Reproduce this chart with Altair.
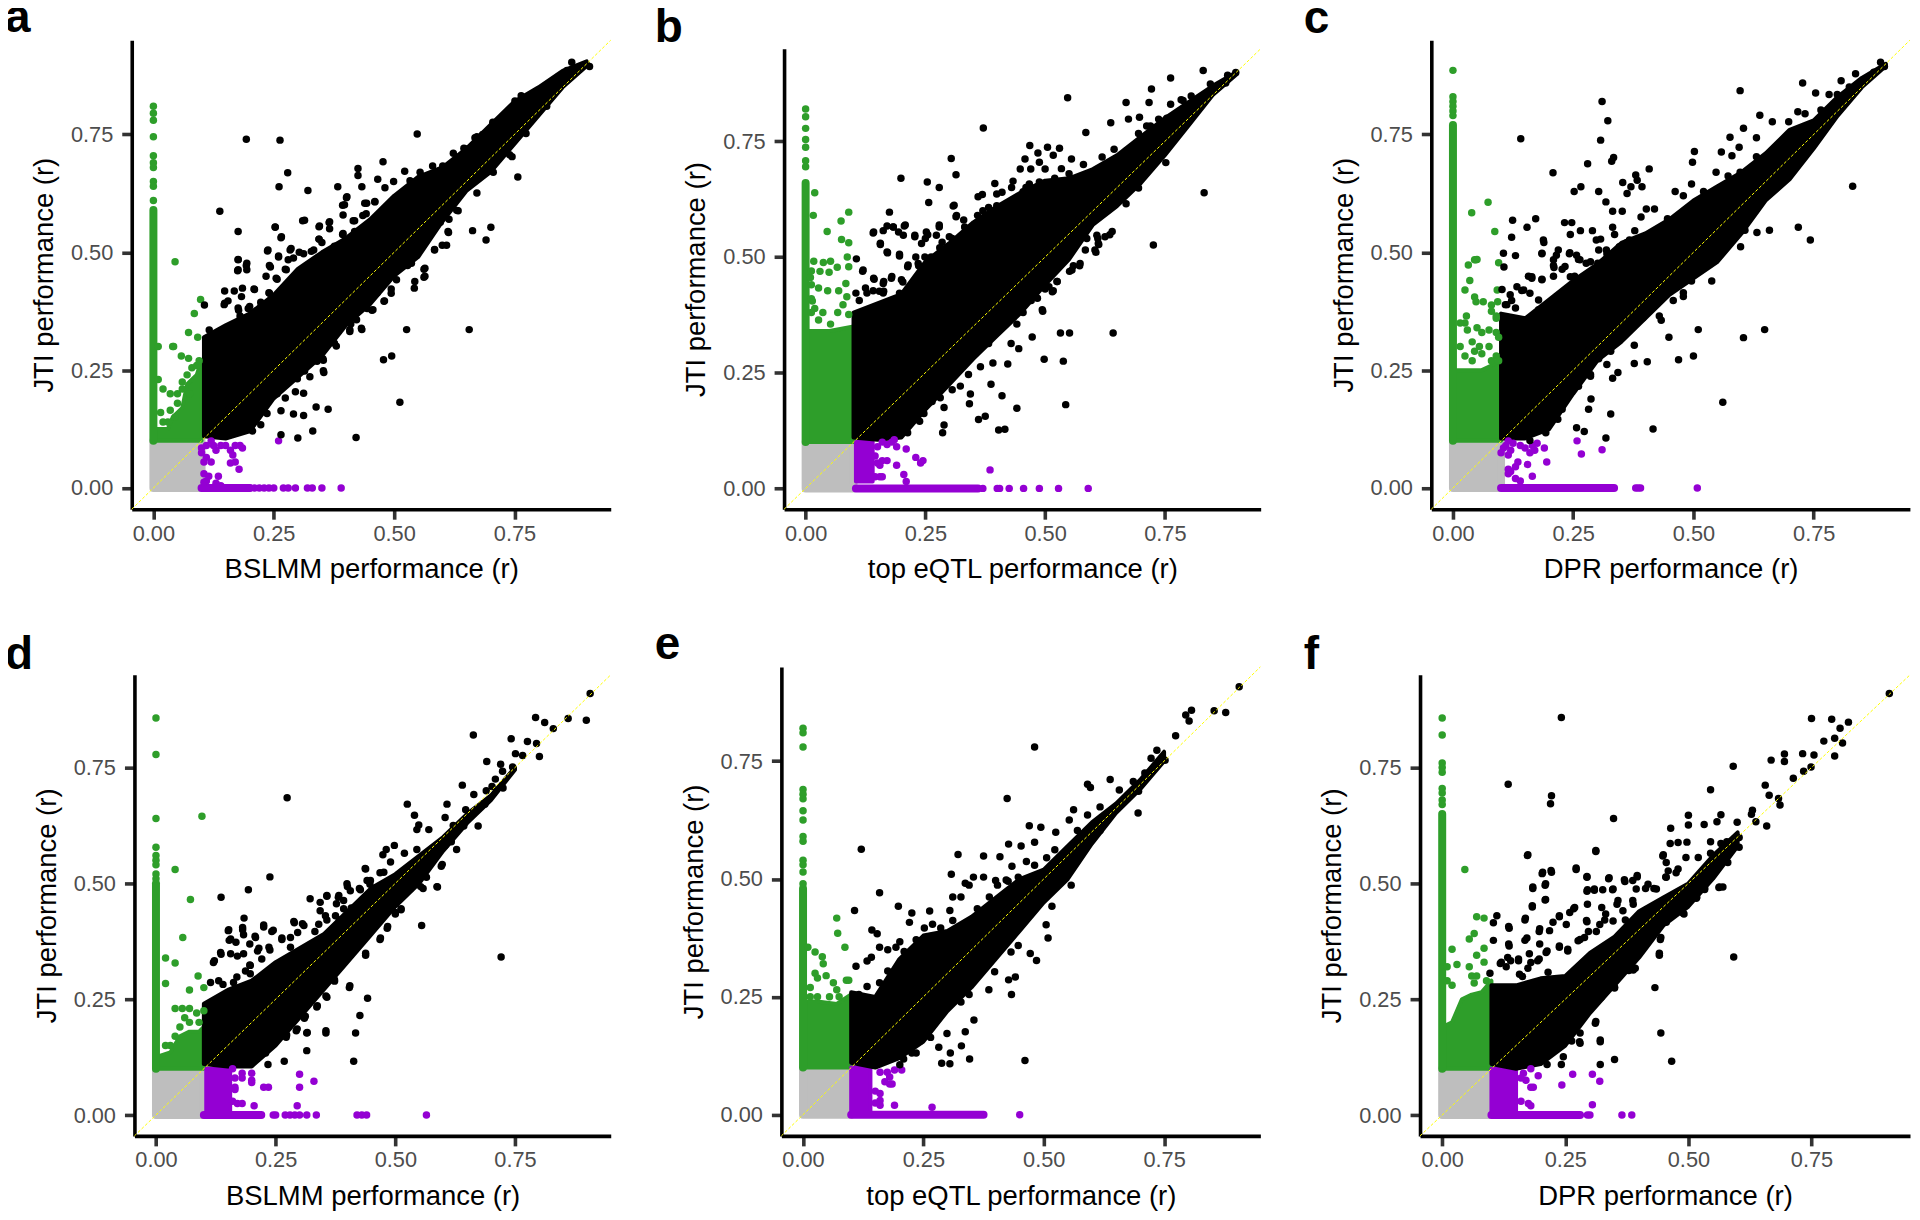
import altair as alt
import pandas as pd

# The saturated parts of each cloud
# cannot be read dot by dot, so they are given as read envelopes (x, upper, lower);
# isolated points and the dots along the cloud edges are listed individually.
GREY = "#BEBEBE"; GREEN = "#2E9E2A"; PURPLE = "#9400D3"; BLACK = "#000000"; YELLOW = "#FFFF00"
TICKS = [0, 0.25, 0.5, 0.75]
DOMAIN = [-0.045, 0.95]

# ---------- panel a
A_BLACK_ENV = ([.105,.15,.2,.25,.3,.35,.4,.45,.5,.55,.6,.65,.7,.75,.8,.85,.9],
 [.32,.345,.37,.41,.465,.50,.53,.57,.62,.66,.68,.72,.77,.82,.85,.885,.905],
 [.11,.105,.12,.19,.235,.28,.345,.39,.45,.49,.565,.63,.67,.73,.79,.85,.895])
A_BLACK = [(.193,.74),(.263,.738),(.548,.751),(.279,.669),(.261,.639),(.321,.631),(.138,.587),(.31,.567),(.176,.544),(.253,.553),(.265,.531),(.237,.503),(.176,.484),(.193,.472),(.175,.461),(.243,.469),(.26,.49),(.284,.505),(.148,.418),(.168,.418),(.185,.424),(.21,.421),(.147,.389),(.177,.377),(.106,.388),(.116,.335),(.383,.639),(.425,.678),(.425,.663),(.433,.639),(.466,.655),(.477,.692),(.401,.616),(.393,.6),(.522,.672),(.344,.554),(.365,.563),(.344,.528),(.418,.567),(.757,.66),(.745,.703),(.701,.553),(.663,.546),(.691,.526),(.656,.336),(.526,.336),(.478,.272),(.495,.28),(.512,.182),(.421,.107),(.363,.167),(.338,.172),(.331,.121),(.312,.154),(.291,.157),(.3,.106),(.265,.113),(.265,.164),(.354,.245),(.353,.271),(.333,.278),(.312,.201),(.295,.204),(.433,.336),(.408,.332),(.454,.377),(.479,.396),(.542,.424),(.562,.464),(.562,.447),(.584,.505),(.609,.515),(.613,.542),(.869,.903),(.899,.899),(.906,.894),(.859,.886),(.764,.832),(.751,.821),(.705,.776),(.684,.75),(.668,.743),(.645,.721),(.623,.71)]
A_EDGE = [(.155,.397),(.168,.348),(.155,.327),(.18,.365),(.197,.381),(.189,.348),(.223,.394),(.24,.414),(.257,.443),(.274,.464),(.291,.488),(.312,.497),(.333,.505),(.325,.472),(.35,.521),(.376,.513),(.393,.538),(.418,.538),(.435,.578),(.443,.604),(.46,.608),(.481,.637),(.499,.65),(.533,.652),(.554,.67),(.58,.683),(.601,.683),(.622,.662),(.647,.72),(.672,.745),(.732,.79),(.749,.785),(.783,.814),(.812,.845),(.825,.855),(.206,.121),(.223,.134),(.236,.158),(.257,.2),(.274,.191),(.299,.232),(.325,.236),(.376,.307),(.384,.332),(.41,.348),(.444,.381),(.465,.414),(.494,.422),(.528,.472),(.545,.505),(.554,.517),(.596,.564),(.63,.589),(.672,.626),(.706,.67),(.74,.707),(.774,.752),(.817,.81)]
A_EDGE2 = [(.183,.406),(.209,.422),(.148,.392),(.176,.382),(.2,.385),(.224,.388),(.241,.413),(.234,.449),(.255,.445),(.276,.463),(.241,.472),(.26,.492),(.28,.484),(.286,.508),(.303,.5),(.176,.485),(.194,.477),(.176,.463),(.194,.463),(.238,.505),(.266,.533),(.253,.554),(.314,.568),(.345,.556),(.366,.565),(.366,.55),(.344,.528),(.328,.502),(.394,.579),(.397,.601),(.402,.618),(.439,.604),(.46,.607),(.394,.54),(.418,.544),(.44,.54),(.415,.567),(.442,.582),(.48,.582),(.494,.593),(.633,.588),(.612,.544),(.614,.57),(.6,.515),(.584,.506),(.564,.466),(.564,.449),(.543,.438),(.536,.477),(.505,.442),(.494,.413),(.48,.397),(.456,.378),(.432,.339),(.408,.336),(.422,.357),(.38,.301),(.352,.274),(.333,.28),(.34,.269),(.353,.249),(.314,.248)]
A_GREEN_ENV = ([0,.03,.04,.06,.07,.09,.1],[.125,.125,.15,.17,.22,.24,.27],[.1,.1,.1,.1,.1,.1,.1])
A_GREEN_COL = (.1,.59)
A_GREEN = [(0,.81),(0,.795),(0,.78),(0,.745),(0,.705),(0,.69),(0,.68),(0,.65),(0,.64),(0,.61),(.045,.48),(.098,.40),(.085,.37),(.073,.33),(.092,.32),(.04,.30),(.042,.3),(.01,.3),(.058,.28),(.073,.275),(.01,.23),(.02,.21),(.035,.2),(.05,.2),(.015,.16),(.03,.14),(.06,.21),(.07,.24),(.08,.255),(.09,.26),(.075,.2),(.05,.18),(.035,.165),(.045,.15),(.02,.14),(.06,.225),(.095,.27)]
A_PURPLE_ENV = None
A_PURPLE_ROW = (.1,.2)
A_PURPLE = [(.2,0),(.21,0),(.22,0),(.23,0),(.24,0),(.25,0),(.27,0),(.28,0),(.295,0),(.32,0),(.33,0),(.35,0),(.39,0),(.26,.1),(.1,.075),(.11,.09),(.12,.1),(.13,.08),(.11,.065),(.12,.055),(.15,.09),(.16,.08),(.17,.09),(.18,.09),(.185,.085),(.165,.07),(.16,.053),(.17,.055),(.178,.04),(.105,.03),(.115,.025),(.135,.025),(.105,.055),(.125,.09),(.14,.09),(.1,.085),(.11,.015),(.105,.012),(.13,.01),(.14,.005)]

# ---------- panel b
B_BLACK_ENV = ([.1,.15,.2,.25,.3,.35,.4,.45,.5,.55,.6,.65,.7,.75,.8,.85,.9],
 [.38,.40,.42,.49,.53,.575,.61,.64,.665,.67,.69,.72,.76,.80,.835,.87,.9],
 [.11,.105,.11,.17,.225,.28,.33,.38,.44,.495,.57,.61,.66,.72,.785,.85,.895])
B_BLACK = [(.547,.844),(.371,.779),(.762,.887),(.83,.903),(.722,.863),(.669,.834),(.717,.834),(.585,.769),(.674,.798),(.697,.802),(.637,.79),(.304,.713),(.314,.678),(.199,.67),(.254,.662),(.279,.65),(.257,.618),(.308,.61),(.314,.587),(.175,.597),(.206,.567),(.279,.565),(.395,.659),(.468,.741),(.505,.737),(.53,.735),(.485,.725),(.458,.712),(.488,.705),(.448,.69),(.517,.72),(.555,.712),(.534,.691),(.369,.635),(.399,.636),(.433,.664),(.141,.552),(.162,.557),(.183,.565),(.156,.527),(.171,.509),(.196,.502),(.228,.544),(.255,.548),(.106,.496),(.119,.469),(.143,.452),(.162,.443),(.179,.454),(.203,.446),(.213,.479),(.236,.481),(.262,.5),(.141,.427),(.162,.422),(.196,.422),(.105,.422),(.832,.639),(.726,.526),(.752,.704),(.642,.336),(.551,.336),(.532,.336),(.498,.279),(.538,.275),(.543,.181),(.422,.269),(.391,.271),(.387,.225),(.41,.2),(.441,.173),(.344,.204),(.342,.183),(.375,.156),(.361,.149),(.403,.126),(.416,.128),(.289,.175),(.289,.137),(.286,.12),(.473,.327),(.445,.302),(.429,.313),(.495,.383),(.551,.469),(.572,.481),(.517,.427),(.606,.51),(.612,.527),(.64,.555),(.898,.899),(.881,.893),(.877,.876),(.845,.874),(.805,.848),(.784,.84),(.762,.83),(.737,.798),(.712,.783)]
B_EDGE = [(.112,.406),(.128,.422),(.154,.426),(.179,.406),(.196,.389),(.162,.389),(.213,.414),(.238,.464),(.255,.473),(.272,.494),(.285,.532),(.306,.54),(.297,.507),(.331,.548),(.348,.557),(.331,.515),(.365,.582),(.382,.607),(.399,.611),(.416,.59),(.433,.615),(.437,.565),(.454,.641),(.467,.658),(.488,.662),(.509,.658),(.534,.649),(.555,.658),(.572,.662),(.589,.674),(.61,.683),(.619,.716),(.644,.733),(.669,.729),(.695,.767),(.72,.783),(.754,.8),(.788,.838),(.25,.54),(.23,.5),(.28,.52),(.33,.58),(.37,.6),(.36,.63),(.41,.64),(.43,.65),(.44,.6),(.47,.69),(.5,.69),(.46,.65),(.52,.67),(.55,.68),(.58,.7),(.213,.12),(.238,.145),(.247,.162),(.264,.188),(.281,.196),(.306,.213),(.323,.221),(.34,.246),(.365,.263),(.382,.313),(.39,.33),(.416,.364),(.441,.355),(.454,.38),(.471,.406),(.5,.431),(.525,.447),(.559,.481),(.584,.515),(.61,.54),(.635,.548),(.669,.615),(.695,.649),(.729,.708),(.754,.741)]
B_EDGE2 = [(.142,.554),(.17,.567),(.183,.565),(.208,.569),(.194,.554),(.204,.547),(.228,.547),(.156,.53),(.17,.511),(.196,.506),(.242,.529),(.252,.554),(.273,.547),(.279,.569),(.3,.544),(.214,.483),(.235,.486),(.249,.5),(.12,.472),(.142,.454),(.163,.447),(.18,.458),(.2,.451),(.125,.433),(.163,.426),(.197,.418),(.332,.565),(.359,.59),(.31,.612),(.315,.59),(.608,.547),(.587,.54),(.625,.544),(.611,.529),(.604,.515),(.573,.486),(.556,.472),(.525,.447),(.508,.436),(.515,.425),(.484,.411),(.494,.386),(.46,.408)]
B_GREEN_ENV = ([0,.05,.1],[.34,.34,.35],[.1,.1,.1])
B_GREEN_COL = (.1,.66)
B_GREEN = [(0,.82),(0,.803),(0,.778),(0,.754),(0,.737),(0,.708),(0,.695),(.019,.639),(.016,.59),(.09,.597),(.074,.578),(.045,.555),(.075,.538),(.09,.531),(.087,.5),(.09,.479),(.066,.478),(.052,.491),(.037,.488),(.049,.467),(.03,.469),(.017,.491),(.084,.443),(.027,.433),(.046,.427),(.069,.427),(.086,.414),(.019,.389),(.036,.38),(.067,.38),(.09,.376),(.027,.364),(.052,.355),(.078,.397),(.014,.405),(.01,.456),(.012,.47),(.012,.44),(.012,.41),(.012,.38)]
B_PURPLE_ENV = ([.105,.14],[.1,.1],[.015,.015])
B_PURPLE_ROW = (.105,.36)
B_PURPLE = [(.37,0),(.4,0),(.405,0),(.425,0),(.455,0),(.488,0),(.528,0),(.59,0),(.385,.04),(.16,.1),(.18,.1),(.19,.09),(.185,.105),(.21,.085),(.23,.067),(.245,.06),(.24,.055),(.19,.05),(.17,.06),(.16,.06),(.15,.055),(.155,.05),(.145,.025),(.155,.025),(.16,.025),(.205,.03),(.21,.015),(.15,.09),(.17,.095),(.145,.07)]

# ---------- panel c
C_BLACK_ENV = ([.1,.15,.2,.25,.3,.35,.4,.45,.5,.55,.6,.65,.7,.75,.8,.85,.9],
 [.37,.36,.40,.44,.475,.52,.54,.57,.61,.64,.67,.71,.76,.78,.83,.87,.90],
 [.105,.105,.125,.2,.27,.31,.36,.41,.445,.48,.54,.61,.655,.72,.79,.85,.895])
C_BLACK = [(.31,.82),(.322,.779),(.141,.741),(.307,.738),(.597,.843),(.727,.859),(.754,.838),(.831,.64),(.334,.701),(.33,.693),(.28,.688),(.408,.677),(.208,.669),(.38,.664),(.383,.653),(.353,.648),(.37,.639),(.393,.639),(.362,.625),(.252,.629),(.266,.639),(.303,.629),(.318,.607),(.332,.587),(.352,.587),(.402,.592),(.419,.592),(.391,.575),(.124,.568),(.172,.571),(.154,.553),(.122,.532),(.232,.563),(.247,.563),(.244,.538),(.265,.546),(.29,.546),(.307,.528),(.332,.553),(.105,.498),(.13,.493),(.106,.469),(.189,.521),(.185,.497),(.219,.505),(.209,.472),(.242,.497),(.576,.744),(.502,.714),(.498,.691),(.558,.713),(.595,.723),(.604,.763),(.638,.791),(.631,.743),(.58,.705),(.718,.553),(.743,.526),(.658,.547),(.632,.542),(.607,.547),(.598,.512),(.538,.439),(.648,.336),(.604,.319),(.51,.336),(.5,.28),(.449,.32),(.469,.272),(.377,.303),(.377,.264),(.404,.268),(.343,.245),(.332,.233),(.32,.262),(.561,.182),(.416,.125),(.328,.157),(.318,.106),(.287,.189),(.282,.167),(.273,.12),(.257,.128),(.286,.237),(.433,.356),(.479,.406),(.889,.903),(.897,.894),(.875,.882),(.837,.879),(.807,.864),(.782,.835),(.717,.798)]
C_EDGE = [(.109,.389),(.122,.398),(.143,.419),(.164,.448),(.185,.443),(.21,.468),(.227,.464),(.244,.448),(.261,.485),(.286,.48),(.303,.505),(.32,.497),(.336,.538),(.362,.521),(.378,.546),(.395,.526),(.42,.521),(.446,.571),(.462,.629),(.479,.62),(.496,.645),(.521,.629),(.547,.67),(.572,.662),(.597,.67),(.631,.703),(.664,.777),(.698,.777),(.732,.794),(.765,.802),(.799,.835),(.824,.851),(.16,.101),(.193,.117),(.218,.146),(.227,.167),(.261,.216),(.286,.241),(.303,.274),(.328,.29),(.362,.332),(.395,.361),(.429,.365),(.458,.398),(.479,.414),(.496,.439),(.53,.48),(.563,.521),(.597,.554),(.631,.592),(.673,.637),(.698,.678),(.732,.707),(.774,.769)]
C_EDGE2 = [(.133,.427),(.147,.42),(.157,.449),(.164,.445),(.185,.442),(.209,.449),(.233,.47),(.253,.449),(.264,.484),(.277,.477),(.301,.477),(.215,.494),(.209,.484),(.257,.494),(.243,.499),(.185,.498),(.178,.399),(.119,.41),(.102,.421),(.112,.389),(.13,.382),(.178,.378),(.16,.413),(.188,.526),(.298,.526),(.319,.505),(.346,.512),(.367,.526),(.401,.526)]
C_GREEN_ENV = ([0,.02,.04,.06,.08,.1],[.25,.25,.25,.25,.26,.27],[.1,.1,.1,.1,.1,.1])
C_GREEN_COL = (.1,.77)
C_GREEN = [(0,.886),(0,.83),(0,.82),(0,.81),(0,.80),(0,.79),(.073,.606),(.039,.584),(.087,.544),(.048,.484),(.05,.485),(.045,.484),(.032,.473),(.095,.478),(.035,.44),(.025,.42),(.092,.42),(.045,.405),(.048,.395),(.063,.395),(.08,.388),(.093,.395),(.08,.375),(.09,.365),(.09,.36),(.028,.365),(.025,.35),(.015,.35),(.03,.335),(.05,.34),(.06,.33),(.075,.335),(.09,.33),(.095,.32),(.04,.31),(.055,.3),(.045,.29),(.025,.28),(.04,.27),(.06,.285),(.075,.3),(.09,.28),(.08,.27),(.095,.27),(.015,.3)]
C_PURPLE_ENV = None
C_PURPLE_ROW = (.1,.335)
C_PURPLE = [(.38,0),(.385,0),(.39,0),(.508,0),(.258,.1),(.267,.072),(.31,.081),(.115,.1),(.125,.095),(.14,.09),(.11,.09),(.12,.08),(.115,.07),(.15,.085),(.165,.09),(.175,.095),(.16,.075),(.19,.085),(.195,.055),(.155,.05),(.135,.055),(.13,.045),(.115,.04),(.12,.035),(.115,.03),(.165,.025),(.13,.02),(.14,.015),(.105,.085),(.1,.075),(.17,.08)]

# ---------- panel d
D_BLACK_ENV = ([.1,.15,.2,.25,.3,.35,.4,.45,.5,.55,.6,.65,.7,.75],
 [.24,.27,.29,.33,.36,.39,.44,.49,.52,.56,.60,.65,.69,.75],
 [.11,.105,.105,.15,.21,.27,.33,.39,.45,.50,.57,.63,.68,.745])
D_BLACK = [(.907,.91),(.899,.852),(.861,.856),(.83,.834),(.812,.847),(.793,.858),(.663,.82),(.742,.812),(.776,.806),(.795,.802),(.801,.774),(.751,.78),(.766,.776),(.691,.763),(.72,.757),(.745,.751),(.724,.742),(.709,.725),(.64,.712),(.725,.706),(.702,.709),(.69,.7),(.664,.692),(.687,.671),(.525,.671),(.608,.671),(.54,.647),(.549,.626),(.545,.616),(.274,.685),(.238,.514),(.193,.486),(.136,.47),(.322,.467),(.357,.472),(.381,.47),(.4,.493),(.438,.531),(.289,.415),(.242,.396),(.225,.406),(.184,.425),(.151,.398),(.181,.4),(.208,.383),(.153,.377),(.167,.373),(.136,.347),(.12,.329),(.17,.343),(.212,.354),(.238,.356),(.721,.341),(.555,.409),(.628,.573),(.673,.624),(.643,.624),(.617,.59),(.588,.492),(.596,.537),(.558,.489),(.512,.443),(.5,.434),(.483,.403),(.468,.379),(.438,.345),(.404,.275),(.442,.252),(.426,.215),(.417,.177),(.413,.116),(.355,.177),(.357,.254),(.336,.233),(.373,.289),(.315,.139),(.315,.177),(.293,.182),(.31,.209),(.268,.116),(.272,.168),(.234,.109)]
D_EDGE = [(.114,.286),(.14,.282),(.162,.286),(.187,.311),(.196,.324),(.221,.337),(.263,.379),(.281,.362),(.306,.413),(.332,.396),(.357,.421),(.383,.421),(.408,.447),(.425,.489),(.447,.498),(.468,.523),(.481,.573),(.498,.582),(.519,.565),(.545,.573),(.57,.616),(.579,.573),(.604,.642),(.621,.625),(.647,.659),(.229,.134),(.246,.16),(.255,.177),(.289,.219),(.323,.261),(.349,.286),(.374,.32),(.4,.354),(.425,.405),(.459,.421),(.494,.455),(.519,.489),(.553,.54),(.579,.565),(.604,.582),(.63,.616)]
D_EDGE2 = [(.152,.4),(.181,.405),(.156,.38),(.183,.389),(.207,.386),(.225,.41),(.245,.399),(.196,.369),(.215,.36),(.236,.362),(.263,.382),(.281,.383),(.296,.394),(.288,.418),(.309,.409),(.34,.412),(.343,.441),(.354,.43),(.375,.43),(.343,.459),(.357,.474),(.382,.474),(.377,.456),(.392,.463),(.392,.445),(.399,.499),(.406,.484),(.427,.486),(.441,.506),(.448,.506),(.437,.532),(.476,.524),(.49,.546),(.474,.562),(.135,.351),(.156,.348),(.183,.348),(.122,.333),(.169,.298),(.131,.29),(.197,.323),(.197,.305),(.598,.541),(.587,.493),(.565,.513),(.553,.493),(.531,.488),(.512,.445),(.5,.437),(.484,.407),(.469,.382),(.438,.349),(.406,.345),(.384,.324),(.368,.315),(.373,.292),(.405,.279),(.355,.257),(.337,.236),(.312,.213),(.295,.186),(.316,.178),(.273,.173),(.355,.182),(.288,.228),(.333,.268),(.35,.29)]
D_GREEN_ENV = ([0,.03,.05,.07,.09,.1],[.125,.135,.17,.18,.18,.19],[.1,.1,.1,.1,.1,.1])
D_GREEN_COL = (.1,.5)
D_GREEN = [(0,.857),(0,.778),(0,.64),(0,.578),(0,.56),(0,.55),(0,.54),(0,.52),(0,.51),(.096,.645),(.04,.53),(.072,.465),(.056,.383),(.02,.339),(.04,.328),(.088,.3),(.02,.284),(.07,.27),(.1,.275),(.04,.23),(.055,.23),(.07,.23),(.1,.225),(.04,.17),(.05,.19),(.06,.21),(.07,.2),(.09,.2),(.085,.22),(.03,.15),(.02,.15)]
D_PURPLE_ENV = ([.105,.155],[.1,.1],[0,0])
D_PURPLE_ROW = (.1,.22)
D_PURPLE = [(.245,0),(.25,0),(.27,0),(.28,0),(.29,0),(.3,0),(.315,0),(.335,0),(.42,0),(.43,0),(.44,0),(.565,0),(.16,.1),(.18,.09),(.18,.08),(.2,.09),(.2,.075),(.2,.07),(.165,.06),(.165,.055),(.225,.06),(.235,.06),(.3,.088),(.3,.06),(.33,.073),(.16,.03),(.17,.025),(.18,.025),(.205,.02),(.295,.02),(.165,.08)]

# ---------- panel e
E_BLACK_ENV = ([.1,.15,.2,.25,.3,.35,.4,.45,.5,.55,.6,.65,.7,.75],
 [.26,.25,.33,.38,.39,.42,.46,.50,.52,.57,.62,.66,.71,.77],
 [.11,.10,.12,.155,.22,.27,.33,.39,.45,.50,.575,.64,.69,.75])
E_BLACK = [(.906,.908),(.878,.853),(.854,.857),(.807,.858),(.795,.848),(.802,.835),(.774,.804),(.481,.78),(.424,.671),(.638,.711),(.591,.701),(.597,.694),(.735,.773),(.723,.756),(.735,.744),(.752,.752),(.71,.725),(.686,.707),(.657,.689),(.697,.686),(.696,.64),(.562,.647),(.47,.613),(.494,.61),(.427,.574),(.453,.57),(.121,.563),(.322,.552),(.375,.549),(.409,.547),(.434,.527),(.525,.599),(.553,.625),(.481,.578),(.557,.487),(.562,.533),(.308,.51),(.354,.504),(.337,.491),(.375,.504),(.4,.497),(.422,.498),(.159,.471),(.107,.433),(.198,.442),(.226,.428),(.263,.432),(.221,.408),(.311,.462),(.305,.433),(.143,.392),(.154,.384),(.11,.315),(.133,.326),(.142,.334),(.159,.355),(.176,.35),(.201,.367),(.252,.396),(.509,.375),(.505,.403),(.485,.327),(.472,.342),(.447,.359),(.432,.345),(.441,.292),(.427,.286),(.433,.255),(.386,.265),(.398,.303),(.517,.442),(.503,.461),(.461,.115),(.355,.201),(.337,.176),(.329,.146),(.346,.118),(.306,.131),(.288,.109),(.305,.108),(.299,.172),(.265,.164),(.282,.143),(.235,.131),(.209,.118)]
E_EDGE = [(.116,.255),(.133,.272),(.159,.28),(.176,.305),(.193,.355),(.21,.346),(.235,.371),(.269,.404),(.286,.396),(.311,.412),(.328,.462),(.345,.487),(.362,.437),(.387,.462),(.404,.487),(.426,.495),(.447,.504),(.464,.537),(.481,.529),(.506,.545),(.523,.562),(.54,.545),(.57,.603),(.591,.636),(.617,.653),(.201,.106),(.226,.131),(.243,.156),(.269,.197),(.294,.23),(.328,.239),(.345,.255),(.371,.313),(.379,.346),(.422,.396),(.447,.404),(.472,.437),(.498,.471),(.523,.496),(.557,.545),(.583,.57),(.617,.603),(.676,.678)]
E_GREEN_ENV = ([0,.03,.07,.1],[.24,.24,.235,.255],[.1,.1,.1,.1])
E_GREEN_COL = (.1,.48)
E_GREEN = [(0,.82),(0,.81),(0,.78),(0,.69),(0,.68),(0,.67),(0,.645),(0,.625),(0,.59),(0,.58),(0,.54),(0,.53),(0,.515),(0,.49),(.07,.417),(.072,.385),(.087,.355),(.025,.345),(.04,.335),(.042,.32),(.025,.3),(.03,.29),(.048,.295),(.063,.28),(.09,.285),(.095,.285),(.015,.27),(.07,.265),(.075,.25),(.015,.25),(.03,.25),(.055,.25),(.01,.355)]
E_PURPLE_ENV = ([.1,.14],[.1,.1],[0,0])
E_PURPLE_ROW = (.1,.375)
E_PURPLE = [(.45,0),(.268,.016),(.19,.02),(.16,.09),(.175,.09),(.18,.08),(.19,.095),(.205,.095),(.17,.07),(.18,.065),(.185,.065),(.15,.05),(.16,.045),(.16,.03),(.15,.025),(.16,.02)]

# ---------- panel f
F_BLACK_ENV = ([.1,.15,.2,.25,.3,.35,.4,.45,.5,.55,.6],
 [.28,.28,.295,.30,.35,.385,.44,.47,.50,.56,.61],
 [.11,.10,.11,.15,.22,.28,.34,.41,.45,.51,.58])
F_BLACK = [(.908,.91),(.242,.858),(.75,.856),(.791,.854),(.825,.848),(.808,.835),(.775,.807),(.797,.813),(.813,.803),(.797,.775),(.695,.779),(.695,.763),(.668,.766),(.732,.78),(.755,.777),(.591,.753),(.749,.751),(.734,.742),(.713,.727),(.134,.714),(.222,.689),(.22,.672),(.656,.712),(.545,.702),(.664,.69),(.683,.683),(.686,.669),(.348,.64),(.5,.647),(.5,.626),(.532,.627),(.464,.619),(.566,.648),(.558,.633),(.659,.624),(.63,.658),(.173,.56),(.312,.569),(.448,.559),(.463,.586),(.479,.588),(.497,.589),(.545,.59),(.566,.586),(.603,.578),(.272,.53),(.203,.521),(.222,.524),(.294,.513),(.338,.51),(.184,.489),(.209,.496),(.209,.464),(.183,.449),(.294,.483),(.309,.485),(.346,.486),(.371,.504),(.396,.514),(.562,.491),(.57,.492),(.533,.487),(.516,.468),(.491,.434),(.111,.43),(.104,.415),(.168,.421),(.136,.403),(.238,.428),(.267,.445),(.294,.417),(.104,.377),(.136,.365),(.168,.377),(.197,.396),(.118,.327),(.139,.333),(.155,.333),(.097,.306),(.592,.341),(.443,.379),(.441,.345),(.432,.275),(.35,.274),(.444,.177),(.466,.116),(.35,.12),(.321,.109),(.321,.158),(.311,.198),(.28,.155),(.242,.109),(.388,.313),(.246,.155),(.321,.253)]
F_EDGE = [(.13,.32),(.163,.299),(.18,.329),(.197,.337),(.213,.354),(.238,.362),(.255,.354),(.28,.379),(.297,.396),(.313,.396),(.33,.421),(.355,.455),(.372,.421),(.388,.455),(.413,.489),(.43,.489),(.454,.514),(.475,.523),(.495,.556),(.52,.556),(.545,.565),(.578,.59),(.599,.632),(.628,.649),(.213,.109),(.246,.126),(.263,.16),(.28,.177),(.296,.236),(.321,.261),(.346,.295),(.379,.312),(.412,.379),(.454,.43),(.479,.447),(.512,.489),(.545,.54),(.578,.582),(.603,.599),(.637,.633)]
F_EDGE2 = [(.174,.562),(.312,.571),(.272,.533),(.221,.528),(.204,.524),(.184,.492),(.21,.499),(.21,.465),(.183,.452),(.294,.515),(.339,.512),(.37,.508),(.295,.486),(.309,.488),(.326,.486),(.347,.488),(.396,.517),(.387,.506),(.449,.562),(.455,.545),(.459,.527),(.479,.531),(.455,.513),(.169,.425),(.135,.407),(.135,.369),(.172,.382),(.238,.43),(.259,.437),(.269,.448),(.295,.455),(.324,.448),(.332,.434),(.293,.42),(.32,.411),(.252,.411),(.225,.416),(.198,.402),(.218,.398),(.198,.369),(.238,.365),(.276,.376),(.289,.383),(.133,.34),(.155,.337),(.177,.348),(.194,.333),(.12,.33),(.174,.317),(.211,.351),(.255,.358),(.215,.308),(.157,.304),(.357,.463),(.367,.441),(.347,.419),(.387,.463),(.394,.488),(.418,.498),(.435,.488),(.58,.545),(.563,.492),(.533,.49),(.517,.47),(.489,.436),(.455,.416),(.444,.383),(.441,.349),(.411,.378),(.39,.358),(.392,.317),(.38,.315),(.35,.276),(.323,.254),(.286,.225),(.276,.207),(.312,.202),(.259,.185),(.279,.158),(.321,.162),(.245,.16)]
F_GREEN_ENV = ([0,.02,.04,.06,.08,.1],[.19,.2,.25,.26,.265,.29],[.1,.1,.1,.1,.1,.1])
F_GREEN_COL = (.1,.65)
F_GREEN = [(0,.857),(0,.82),(0,.76),(0,.75),(0,.74),(0,.705),(0,.695),(0,.68),(0,.67),(.046,.53),(.07,.428),(.085,.425),(.065,.392),(.055,.38),(.085,.36),(.07,.345),(.085,.33),(.02,.358),(.03,.325),(.055,.32),(.06,.3),(.09,.29),(.02,.28),(.065,.285),(.07,.3),(.01,.32),(.01,.29)]
F_PURPLE_ENV = ([.1,.15],[.1,.1],[0,0])
F_PURPLE_ROW = (.1,.28)
F_PURPLE = [(.295,0),(.3,0),(.365,0),(.385,0),(.305,.022),(.18,.02),(.165,.09),(.18,.1),(.195,.085),(.243,.065),(.265,.088),(.305,.088),(.32,.073),(.18,.06),(.185,.06),(.17,.075),(.16,.08),(.16,.03),(.175,.025)]

X_TITLES = ["BSLMM performance (r)", "top eQTL performance (r)", "DPR performance (r)"]
Y_TITLE = "JTI performance (r)"

FONT = "Liberation Sans"
COL_W = [651, 640, 491]
ROW_H = 470
DOT = 56

def env_df(env):
    return pd.DataFrame({"x": env[0], "y": env[1], "y2": env[2]})

def pts_df(pts):
    return pd.DataFrame(pts, columns=["x", "y"])

def panel(col, letter, xtitle, xr, yr, lab_x, lab_y,
          black_env, black, green_env, green_col, green, purple_env, purple_row, purple):
    xs = alt.Scale(domain=DOMAIN, range=xr, nice=False, zero=False)
    ys = alt.Scale(domain=DOMAIN, range=yr, nice=False, zero=False)
    common = dict(values=TICKS, format=".2f", grid=False, domainColor="black", domainWidth=3.6,
                  tickColor="#333333", tickWidth=3.6, tickSize=10, labelColor="#4D4D4D", labelFont=FONT,
                  labelFontSize=21.8, titleFont=FONT, titleFontSize=27.5, titleFontWeight="normal",
                  titleColor="black", labelFlush=False, labelOverlap=False)
    xa = alt.Axis(title=xtitle, labelPadding=4, titlePadding=11, **common)
    ya = alt.Axis(title=Y_TITLE, labelPadding=9, titlePadding=12, offset=-xr[0], **common)
    X = alt.X("x:Q", scale=xs, axis=xa)
    Y = alt.Y("y:Q", scale=ys, axis=ya)
    layers = []
    grey = pd.DataFrame({"x": [0], "x2": [0.1], "y": [0], "y2": [0.1]})
    layers.append(alt.Chart(grey).mark_rect(color=GREY, stroke=GREY, strokeWidth=8, strokeJoin="round")
                  .encode(x=X, x2="x2:Q", y=Y, y2="y2:Q"))
    for env, c in ((green_env, GREEN), (purple_env, PURPLE), (black_env, BLACK)):
        if env is not None:
            layers.append(alt.Chart(env_df(env)).mark_area(color=c, stroke=c, strokeWidth=4, strokeJoin="round", opacity=1)
                          .encode(x=X, y=Y, y2="y2:Q"))
    gc = pd.DataFrame({"x": [0], "y": [green_col[0]], "y2": [green_col[1]]})
    layers.append(alt.Chart(gc).mark_rule(color=GREEN, strokeWidth=8, strokeCap="round").encode(x=X, y=Y, y2="y2:Q"))
    pr = pd.DataFrame({"x": [purple_row[0]], "x2": [purple_row[1]], "y": [0]})
    layers.append(alt.Chart(pr).mark_rule(color=PURPLE, strokeWidth=8, strokeCap="round").encode(x=X, x2="x2:Q", y=Y))
    for pts, c in ((green, GREEN), (purple, PURPLE), (black, BLACK)):
        layers.append(alt.Chart(pts_df(pts)).mark_circle(color=c, size=DOT, opacity=1).encode(x=X, y=Y))
    diag = pd.DataFrame({"x": DOMAIN, "y": DOMAIN})
    layers.append(alt.Chart(diag).mark_line(color=YELLOW, strokeWidth=1, strokeDash=[3, 2]).encode(x=X, y=Y))
    layers.append(alt.Chart(pd.DataFrame({"t": [letter]})).mark_text(font=FONT, fontSize=46, fontWeight="bold",
                  color="black", align="left", baseline="alphabetic")
                  .encode(text="t:N", x=alt.value(lab_x), y=alt.value(lab_y)))
    return alt.layer(*layers).properties(width=COL_W[col], height=ROW_H)

pa = panel(0, "a", X_TITLES[0], [0, 480], [470, 0], -127, -8, A_BLACK_ENV, A_BLACK + A_EDGE + A_EDGE2, A_GREEN_ENV, A_GREEN_COL, A_GREEN, A_PURPLE_ENV, A_PURPLE_ROW, A_PURPLE)
pb = panel(1, "b", X_TITLES[1], [2.7, 480.3], [470, 8.6], -127, 1.6, B_BLACK_ENV, B_BLACK + B_EDGE + B_EDGE2, B_GREEN_ENV, B_GREEN_COL, B_GREEN, B_PURPLE_ENV, B_PURPLE_ROW, B_PURPLE)
pc = panel(2, "c", X_TITLES[2], [11.3, 490.9], [470, 0], -116.5, -7, C_BLACK_ENV, C_BLACK + C_EDGE + C_EDGE2, C_GREEN_ENV, C_GREEN_COL, C_GREEN, C_PURPLE_ENV, C_PURPLE_ROW, C_PURPLE)
pd_ = panel(0, "d", X_TITLES[0], [2.7, 480], [470, 8], -127, 2, D_BLACK_ENV, D_BLACK + D_EDGE + D_EDGE2, D_GREEN_ENV, D_GREEN_COL, D_GREEN, D_PURPLE_ENV, D_PURPLE_ROW, D_PURPLE)
pe = panel(1, "e", X_TITLES[1], [0, 480], [470, 0], -127, -8, E_BLACK_ENV, E_BLACK + E_EDGE, E_GREEN_ENV, E_GREEN_COL, E_GREEN, E_PURPLE_ENV, E_PURPLE_ROW, E_PURPLE)
pf = panel(2, "f", X_TITLES[2], [0, 491], [470, 8], -116.5, 2, F_BLACK_ENV, F_BLACK + F_EDGE + F_EDGE2, F_GREEN_ENV, F_GREEN_COL, F_GREEN, F_PURPLE_ENV, F_PURPLE_ROW, F_PURPLE)

chart = alt.concat(pa, pb, pc, pd_, pe, pf, columns=3, spacing={"row": 158, "column": 0}, bounds="flush").properties(
    padding={"left": -3, "top": -14, "right": 0, "bottom": 0}, background="white"
).configure_view(stroke=None)

chart.save("out.html", embed_options={"renderer": "svg", "actions": False})
